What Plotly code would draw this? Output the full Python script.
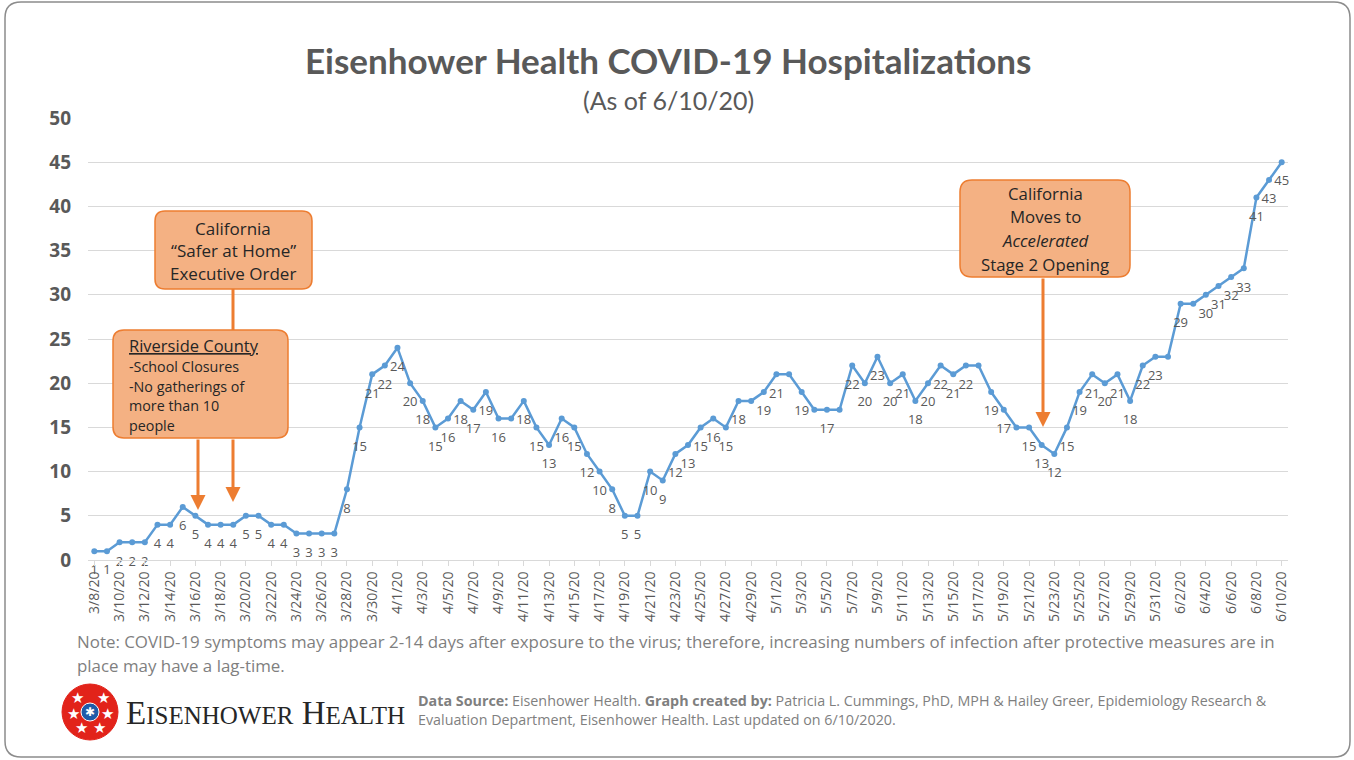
import pandas as pd
import plotly.graph_objects as go

# ---------------- data ----------------
dates = [f"{d.month}/{d.day}/20" for d in pd.date_range("2020-03-08", "2020-06-10")]

march = [1, 1, 2, 2, 2, 4, 4, 6, 5, 4, 4, 4, 5, 5, 4, 4, 3, 3, 3, 3, 8, 15, 21, 22]
april = [24, 20, 18, 15, 16, 18, 17, 19, 16, 16, 18, 15, 13, 16, 15, 12, 10, 8, 5, 5,
         10, 9, 12, 13, 15, 16, 15, 18, 18, 19]
may = [21, 21, 19, 17, 17, 17, 22, 20, 23, 20, 21, 18, 20, 22, 21, 22, 22, 19, 17, 15,
       15, 13, 12, 15, 19, 21, 20, 21, 18, 22, 23]
june = [23, 29, 29, 30, 31, 32, 33, 41, 43, 45]
hospitalized = march + april + may + june

# dates whose data label is not shown in the original chart
unlabeled = ["4/10/20", "4/29/20", "5/2/20", "5/4/20", "5/6/20", "5/17/20",
             "5/20/20", "6/1/20", "6/3/20"]

y_ticks = [0, 5, 10, 15, 20, 25, 30, 35, 40, 45, 50]
x_ticks = dates[::2]

# ---------------- layout helpers (pixel -> paper) ----------------
W, H = 1354, 760
L, R, T, B = 88, 1288, 118, 560


def px(x):
    return (x - L) / (R - L)


def py(y):
    return (B - y) / (B - T)


def rrect(x0, y0, x1, y1, r):
    return (f"M {px(x0 + r)},{py(y0)} L {px(x1 - r)},{py(y0)} "
            f"Q {px(x1)},{py(y0)} {px(x1)},{py(y0 + r)} L {px(x1)},{py(y1 - r)} "
            f"Q {px(x1)},{py(y1)} {px(x1 - r)},{py(y1)} L {px(x0 + r)},{py(y1)} "
            f"Q {px(x0)},{py(y1)} {px(x0)},{py(y1 - r)} L {px(x0)},{py(y0 + r)} "
            f"Q {px(x0)},{py(y0)} {px(x0 + r)},{py(y0)} Z")


GRAY = "#595959"
ORANGE = "#ED7D31"
PEACH = "#F4B183"
FONT = "Open Sans"
TFONT = "Lato"

labels = ["" if d in unlabeled else str(v) for d, v in zip(dates, hospitalized)]

fig = go.Figure()
fig.add_trace(go.Scatter(
    x=dates, y=hospitalized, mode="lines+markers",
    line=dict(color="#5B9BD5", width=2.5),
    marker=dict(color="#5B9BD5", size=6),
    showlegend=False, hoverinfo="x+y",
))
# data labels (transparent, larger markers push the labels a little further below)
fig.add_trace(go.Scatter(
    x=dates, y=hospitalized, mode="markers+text",
    marker=dict(color="rgba(0,0,0,0)", size=20),
    text=labels, textposition="bottom center",
    textfont=dict(family=FONT, size=13, color=GRAY),
    cliponaxis=False, showlegend=False, hoverinfo="skip",
))

shapes = []
annotations = []

# outer border
shapes.append(dict(type="path", xref="paper", yref="paper", path=rrect(5, 2, 1350, 757, 16),
                   line=dict(color="#8c8c8c", width=1.5), fillcolor="rgba(0,0,0,0)", layer="below"))

# title
annotations.append(dict(xref="paper", yref="paper", x=px(668), y=py(60), showarrow=False,
                        text="Eisenhower Health COVID-19 Hospitalizations",
                        font=dict(family=TFONT, size=35, color=GRAY, weight=700),
                        xanchor="center", yanchor="middle"))
annotations.append(dict(xref="paper", yref="paper", x=px(668), y=py(100), showarrow=False,
                        text="(As of 6/10/20)",
                        font=dict(family=TFONT, size=25, color=GRAY),
                        xanchor="center", yanchor="middle"))

# upper part of the "Safer at Home" arrow (runs behind the Riverside box)
shapes.append(dict(type="line", xref="paper", yref="paper", x0=px(233), x1=px(233),
                   y0=py(289), y1=py(332), line=dict(color=ORANGE, width=3)))

# callout boxes
shapes.append(dict(type="path", xref="paper", yref="paper", path=rrect(155, 211, 312, 289, 10),
                   line=dict(color=ORANGE, width=1.5), fillcolor=PEACH))
shapes.append(dict(type="path", xref="paper", yref="paper", path=rrect(113, 330, 288, 438, 11),
                   line=dict(color=ORANGE, width=1.5), fillcolor=PEACH))
shapes.append(dict(type="path", xref="paper", yref="paper", path=rrect(960, 180, 1130, 277, 12),
                   line=dict(color=ORANGE, width=1.5), fillcolor=PEACH))

box_font = dict(family=FONT, size=17, color="#262626")
for i, line in enumerate(["California", "“Safer at Home”", "Executive Order"]):
    annotations.append(dict(xref="paper", yref="paper", x=px(233), y=py(228 + 22.5 * i),
                            text=line, showarrow=False, font=box_font,
                            xanchor="center", yanchor="middle"))

riv_lines = ["<u>Riverside County</u>", "-School Closures", "-No gatherings of", "more than 10", "people"]
riv_y = [345, 366, 386, 405, 425]
for i, line in enumerate(riv_lines):
    annotations.append(dict(xref="paper", yref="paper", x=px(127), y=py(riv_y[i]),
                            text=line, showarrow=False,
                            font=dict(family=FONT, size=16.5 if i == 0 else 14.3, color="#262626"),
                            xanchor="left", yanchor="middle"))

for i, line in enumerate(["California", "Moves to", "<i>Accelerated</i>", "Stage 2 Opening"]):
    annotations.append(dict(xref="paper", yref="paper", x=px(1045), y=py(193 + 23.7 * i),
                            text=line, showarrow=False, font=dict(family=FONT, size=16.8, color="#262626"),
                            xanchor="center", yanchor="middle"))

# arrows (head, tail)
for xh, yh, yt in [(198, 510, 438), (233, 502, 438), (1043, 427, 277)]:
    annotations.append(dict(xref="paper", yref="paper", x=px(xh), y=py(yh), ax=0, ay=-(yh - yt),
                            axref="pixel", ayref="pixel", text="", showarrow=True,
                            arrowhead=2, arrowsize=1, arrowwidth=3, arrowcolor=ORANGE))

# note text
note_font = dict(family=FONT, size=16.9, color="#7f7f7f")
annotations.append(dict(xref="paper", yref="paper", x=px(75), y=py(641), showarrow=False,
                        text="Note: COVID-19 symptoms may appear 2-14 days after exposure to the virus; "
                             "therefore, increasing numbers of infection after protective measures are in",
                        font=note_font, xanchor="left", yanchor="middle"))
annotations.append(dict(xref="paper", yref="paper", x=px(75), y=py(665), showarrow=False,
                        text="place may have a lag-time.",
                        font=note_font, xanchor="left", yanchor="middle"))

# logo
cx, cy, rad = 90, 712, 28
shapes.append(dict(type="circle", xref="paper", yref="paper",
                   x0=px(cx - rad), x1=px(cx + rad), y0=py(cy + rad), y1=py(cy - rad),
                   fillcolor="#E2231A", line=dict(color="#E2231A", width=1)))
for sx, sy in [(-13, -14), (13, -14), (-17, 2), (17, 2), (-9, 16), (9, 16)]:
    annotations.append(dict(xref="paper", yref="paper", x=px(cx + sx), y=py(cy + sy), showarrow=False,
                            text="★", font=dict(family="DejaVu Sans", size=15, color="white"),
                            xanchor="center", yanchor="middle"))
shapes.append(dict(type="circle", xref="paper", yref="paper",
                   x0=px(cx - 9), x1=px(cx + 9), y0=py(cy + 9), y1=py(cy - 9),
                   fillcolor="#1F5BA8", line=dict(color="white", width=1)))
annotations.append(dict(xref="paper", yref="paper", x=px(cx), y=py(cy), showarrow=False,
                        text="✱", font=dict(family="DejaVu Sans", size=12, color="white"),
                        xanchor="center", yanchor="middle"))
annotations.append(dict(xref="paper", yref="paper", x=px(124), y=py(713), showarrow=False,
                        text="E<span style='font-size:25px'>ISENHOWER</span> H<span style='font-size:25px'>EALTH</span>",
                        font=dict(family="Liberation Serif", size=33, color="#262626"),
                        xanchor="left", yanchor="middle"))

# data source
annotations.append(dict(xref="paper", yref="paper", x=px(416), y=py(710), showarrow=False,
                        text="<b>Data Source:</b> Eisenhower Health. <b>Graph created by:</b> Patricia L. Cummings, "
                             "PhD, MPH &amp; Hailey Greer, Epidemiology Research &amp;<br>"
                             "Evaluation Department, Eisenhower Health. Last updated on 6/10/2020.",
                        font=dict(family=FONT, size=14.3, color="#7f7f7f"), align="left",
                        xanchor="left", yanchor="middle"))

fig.update_layout(
    width=W, height=H,
    margin=dict(l=L, r=W - R, t=T, b=H - B, pad=0),
    paper_bgcolor="white", plot_bgcolor="white",
    shapes=shapes, annotations=annotations,
    showlegend=False,
)
fig.update_xaxes(
    type="category", categoryorder="array", categoryarray=dates,
    range=[-0.5, len(dates) - 0.5],
    tickmode="array", tickvals=x_ticks, ticktext=x_ticks,
    tickangle=-90, tickfont=dict(family=FONT, size=14, color=GRAY),
    showgrid=False, showline=True, linecolor="#d9d9d9", linewidth=1,
    ticks="outside", ticklen=5, tickcolor="#d9d9d9", zeroline=False,
)
fig.update_yaxes(
    range=[0, 50], tickmode="array", tickvals=y_ticks,
    tickfont=dict(family=FONT, size=19, color=GRAY, weight=700),
    showgrid=True, gridcolor="#d9d9d9", gridwidth=1,
    showline=False, zeroline=False, ticks="", ticklabelstandoff=16,
)

fig.write_html("out.html", config={"displayModeBar": False},
               post_script="document.body.style.margin='0';")
